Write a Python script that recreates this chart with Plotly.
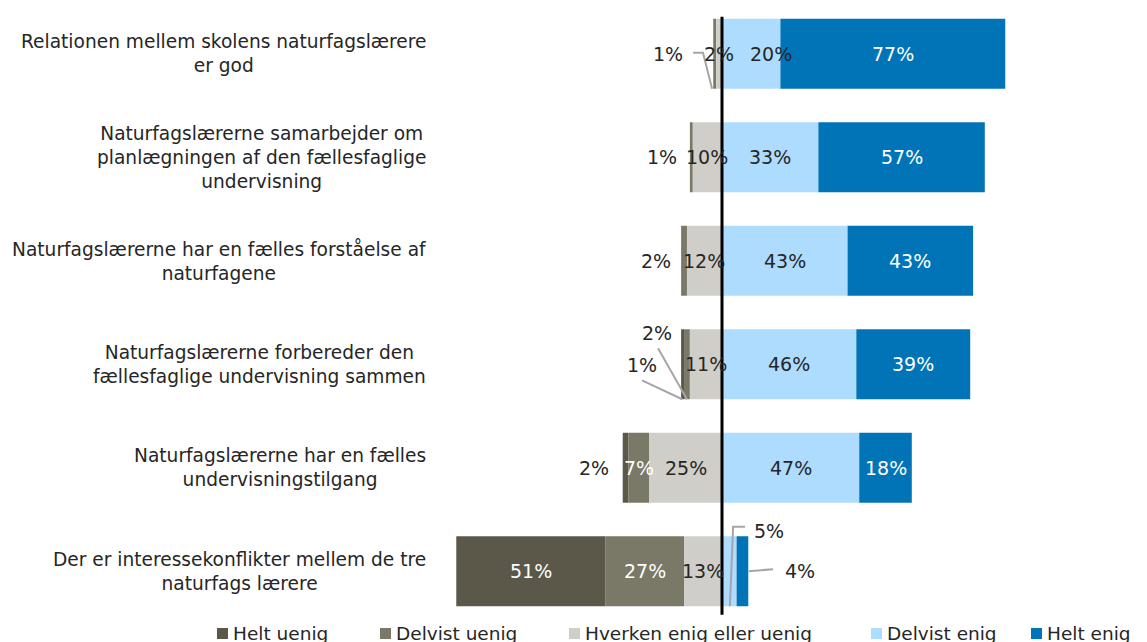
import plotly.graph_objects as go

# Survey statements (top to bottom)
categories = [
    "Relationen mellem skolens naturfagslærere<br>er god",
    "Naturfagslærerne samarbejder om<br>planlægningen af den fællesfaglige<br>undervisning",
    "Naturfagslærerne har en fælles forståelse af<br>naturfagene",
    "Naturfagslærerne forbereder den<br>fællesfaglige undervisning sammen",
    "Naturfagslærerne har en fælles<br>undervisningstilgang",
    "Der er interessekonflikter mellem de tre<br>naturfags lærere",
]

# Answer shares in percent
helt_uenig = [0, 0, 0, 1, 2, 51]
delvist_uenig = [1, 1, 2, 2, 7, 27]
hverken = [2, 10, 12, 11, 25, 13]
delvist_enig = [20, 33, 43, 46, 47, 5]
helt_enig = [77, 57, 43, 39, 18, 4]

series_names = ["Helt uenig", "Delvist uenig", "Hverken enig eller uenig",
                "Delvist enig", "Helt enig"]
colors = ["#5B5849", "#7A7866", "#D0CEC8", "#ADDCFF", "#0074B7"]
text_colors = ["white", "white", "#262626", "#262626", "white"]

FONT = "DejaVu Sans"
W, H = 1147, 642
ML, MR, MT, MB = 440, 7, 2, 19
PW, PH = W - ML - MR, H - MT - MB


def px_x(px):
    return (px - ML) / PW


def px_y(py):
    return 1 - (py - MT) / PH


rows = list(range(len(categories)))
values = [helt_uenig, delvist_uenig, hverken, delvist_enig, helt_enig]

# bases: disagreement and neutral stacked to the left of zero
bases = []
for i in rows:
    neg = helt_uenig[i] + delvist_uenig[i] + hverken[i]
    b_hu = -neg
    b_du = b_hu + helt_uenig[i]
    b_hv = b_du + delvist_uenig[i]
    b_de = 0
    b_he = delvist_enig[i]
    bases.append([b_hu, b_du, b_hv, b_de, b_he])

fig = go.Figure()
BAR_W = 0.676
for s, name in enumerate(series_names):
    fig.add_trace(go.Bar(
        y=rows, x=values[s], base=[bases[i][s] for i in rows],
        orientation="h", width=BAR_W, name=name,
        marker=dict(color=colors[s], line=dict(width=0)),
        showlegend=False, hoverinfo="skip",
    ))

# labels moved away from their segment centre: (row, series) -> (x, y)
moved = {
    (0, 1): (-18.5, 0.0),
    (0, 3): (16.8, 0.0),
    (1, 1): (-20.5, 1.0),
    (2, 1): (-22.6, 2.0),
    (3, 1): (-22.3, 2.70),
    (3, 0): (-27.4, 3.01),
    (4, 0): (-43.8, 4.0),
    (5, 3): (16.1, 4.61),
    (5, 4): (26.7, 5.0),
}
# labels drawn outside the bar use dark text
outside = {(0, 1), (1, 1), (2, 1), (3, 1), (3, 0), (4, 0), (5, 3), (5, 4)}

# leader lines for some of the outside labels
leaders = [
    [(-9.9, -0.01), (-6.5, -0.01), (-3.4, 0.338)],
    [(-21.9, 2.845), (-12.0, 3.338)],
    [(-27.4, 3.155), (-13.6, 3.338)],
    [(7.9, 4.57), (3.8, 4.57), (2.7, 5.338)],
    [(9.2, 5.0), (17.5, 4.98)],
]

annotations = []
for i in rows:
    for s in range(5):
        v = values[s][i]
        if v <= 0:
            continue
        if (i, s) in moved:
            x, y = moved[(i, s)]
        else:
            x = bases[i][s] + v / 2
            y = i
        col = "#262626" if (i, s) in outside else text_colors[s]
        annotations.append(dict(
            x=x, y=y, xref="x", yref="y", text=f"{v}%", showarrow=False,
            font=dict(family=FONT, size=19, color=col),
            xanchor="center", yanchor="middle",
        ))

# statement labels, centred lines right-aligned against the bars
for i, cat in enumerate(categories):
    annotations.append(dict(
        x=px_x(428), y=i, xref="paper", yref="y", text=cat, showarrow=False,
        xanchor="right", yanchor="middle", align="center",
        font=dict(family=FONT, size=18.6, color="#262626"),
    ))

# legend row along the bottom
legend_px = [217, 380, 569, 871, 1031]
shapes = []
for s, name in enumerate(series_names):
    x0 = legend_px[s]
    shapes.append(dict(
        type="rect", xref="paper", yref="paper",
        x0=px_x(x0), x1=px_x(x0 + 11), y0=px_y(639), y1=px_y(628),
        fillcolor=colors[s], line=dict(width=0),
    ))
    annotations.append(dict(
        x=px_x(x0 + 14), y=px_y(633), xref="paper", yref="paper",
        text=name, showarrow=False, xanchor="left", yanchor="middle",
        font=dict(family=FONT, size=18.5, color="#262626"),
    ))

for pts in leaders:
    path = "M " + " L ".join(f"{x},{y}" for x, y in pts)
    shapes.append(dict(type="path", xref="x", yref="y", path=path,
                       line=dict(color="#A6A6A6", width=2)))

# zero line
shapes.append(dict(type="line", xref="x", yref="y", x0=0, x1=0,
                   y0=-0.357, y1=5.42, line=dict(color="black", width=3),
                   layer="above"))

x_left = -(722 - ML) / 2.92
x_right = (ML + PW - 722) / 2.92

fig.update_layout(
    width=W, height=H,
    margin=dict(l=ML, r=MR, t=MT, b=MB),
    paper_bgcolor="white", plot_bgcolor="white",
    barmode="overlay",
    xaxis=dict(range=[x_left, x_right], visible=False, fixedrange=True),
    yaxis=dict(range=[5.5, -0.5], visible=False, fixedrange=True),
    annotations=annotations,
    shapes=shapes,
    showlegend=False,
)

fig.write_html("out.html")
